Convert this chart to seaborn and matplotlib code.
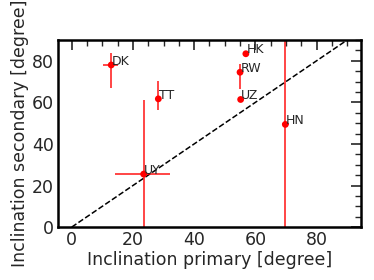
import matplotlib
matplotlib.use("Agg")
import matplotlib.pyplot as plt
import seaborn as sns
import pandas as pd
from matplotlib.ticker import MultipleLocator

NAMES = ["DK", "TT", "UY", "HK", "RW", "UZ", "HN"]
INC_PRIMARY = [12.9, 28.3, 23.5, 56.9, 55.0, 55.2, 69.8]
INC_SECONDARY = [78.0, 61.7, 25.5, 83.4, 74.5, 61.4, 49.4]
XERR_LO = [2.7, 0.8, 9.4, 0.5, 0.5, 0.5, 1.2]
XERR_HI = [2.2, 0.8, 8.6, 0.5, 0.5, 0.5, 1.2]
YERR_LO = [11.0, 5.2, 30.0, 0.5, 8.0, 0.5, 60.0]
YERR_HI = [6.0, 8.6, 35.5, 0.5, 4.0, 0.5, 60.0]

df = pd.DataFrame({"name": NAMES, "x": INC_PRIMARY, "y": INC_SECONDARY})

sns.set_style("white")
plt.rcParams["font.family"] = ["DejaVu Sans"]

fig = plt.figure(figsize=(3.74, 2.8), dpi=100)
ax = fig.add_axes([0.155, 0.189, 0.81, 0.668])

ax.plot([0, 90], [0, 90], ls="--", color="black", lw=1.1, zorder=1)

ax.errorbar(df["x"], df["y"], xerr=[XERR_LO, XERR_HI], yerr=[YERR_LO, YERR_HI],
            fmt="none", ecolor="red", elinewidth=1.2, alpha=0.85, zorder=2)
sns.scatterplot(data=df, x="x", y="y", color="red", s=24, edgecolor="none",
                ax=ax, zorder=3)

for n, x, y in zip(NAMES, INC_PRIMARY, INC_SECONDARY):
    ax.text(x + 0.2, y - 1.3, n, fontsize=9, ha="left", va="bottom")

ax.set_xlim(-4.5, 94.5)
ax.set_ylim(0, 90)
ax.xaxis.set_major_locator(MultipleLocator(20))
ax.xaxis.set_minor_locator(MultipleLocator(5))
ax.yaxis.set_major_locator(MultipleLocator(20))
ax.yaxis.set_minor_locator(MultipleLocator(5))
ax.tick_params(which="both", direction="in", top=True, right=True, labelsize=12.5)
ax.tick_params(which="major", length=7, width=1.2, pad=3)
ax.tick_params(which="minor", length=4, width=1.0)
for sp in ax.spines.values():
    sp.set_linewidth(1.8)
    sp.set_color("black")

ax.set_xlabel("Inclination primary [degree]", fontsize=12.5, labelpad=1)
ax.set_ylabel("Inclination secondary [degree]", fontsize=12.5, labelpad=2)

fig.savefig("out.png", dpi=100)
